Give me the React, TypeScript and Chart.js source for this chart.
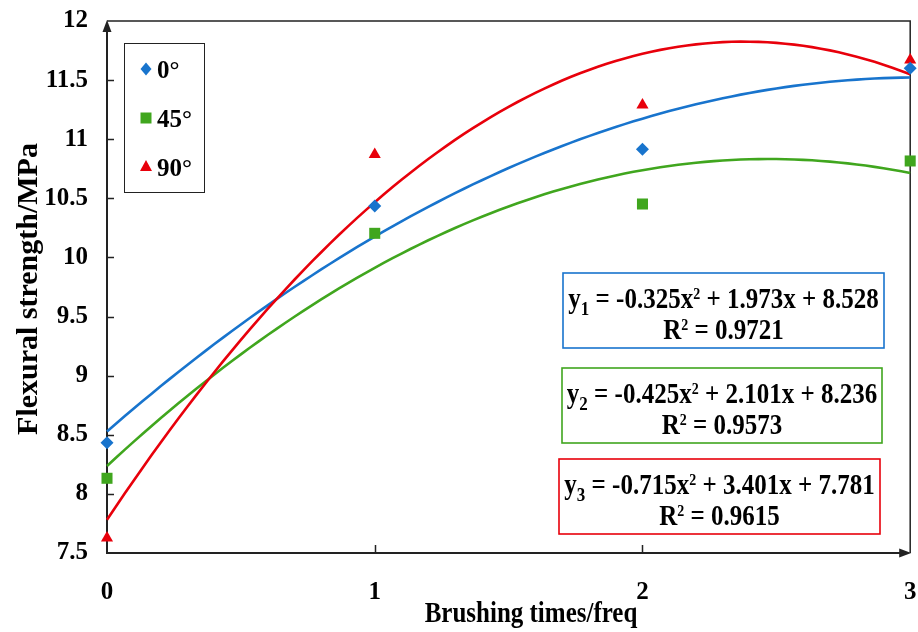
import React, { useEffect, useRef } from "react";
import { Chart, registerables } from "chart.js";

Chart.register(...registerables);

// Measured flexural strength (MPa) per brushing count
const brushTimes = [0, 1, 2, 3];
const strength0 = [8.433, 10.435, 10.915, 11.6];
const strength45 = [8.132, 10.204, 10.452, 10.816];
const strength90 = [7.627, 10.87, 11.29, 11.67];

const seriesNames = ["0°", "45°", "90°"];
const seriesColors = ["#1874CD", "#40A61E", "#E8000B"];

// Quadratic trendline coefficients [a, b, c] for y = a·x² + b·x + c
const fit0 = [-0.325, 1.973, 8.528];
const fit45 = [-0.425, 2.101, 8.236];
const fit90 = [-0.715, 3.401, 7.781];
const rSquared = [0.9721, 0.9573, 0.9615];

const xTicks = [0, 1, 2, 3];
const yTicks = [7.5, 8, 8.5, 9, 9.5, 10, 10.5, 11, 11.5, 12];

const xTitle = "Brushing times/freq";
const yTitle = "Flexural strength/MPa";

const SERIF = '"Liberation Serif", "Times New Roman", serif';

// Trendline traced from its displayed equation
function trend(coef: number[]) {
  const pts: { x: number; y: number }[] = [];
  const n = 90;
  for (let i = 0; i <= n; i++) {
    const x = (3 * i) / n;
    pts.push({ x, y: coef[0] * x * x + coef[1] * x + coef[2] });
  }
  return pts;
}

function pairs(ys: number[]) {
  return brushTimes.map((x, i) => ({ x, y: ys[i] }));
}

type Part = { t: string; k: "n" | "sub" | "sup" };

function drawRich(ctx: CanvasRenderingContext2D, parts: Part[], cx: number, baseline: number, sy: number) {
  const fontFor = (k: string) =>
    k === "n" ? `bold 25px ${SERIF}` : k === "sub" ? `bold 17px ${SERIF}` : `bold 14px ${SERIF}`;
  let total = 0;
  for (const p of parts) {
    ctx.font = fontFor(p.k);
    total += ctx.measureText(p.t).width;
  }
  let x = cx - total / 2;
  ctx.textAlign = "left";
  ctx.textBaseline = "alphabetic";
  for (const p of parts) {
    ctx.font = fontFor(p.k);
    const dy = p.k === "sub" ? 6 : p.k === "sup" ? -8 : 0;
    ctx.save();
    ctx.translate(x, baseline + dy * sy);
    ctx.scale(1, sy);
    ctx.fillText(p.t, 0, 0);
    ctx.restore();
    x += ctx.measureText(p.t).width;
  }
}

function signed(v: number) {
  return `${v < 0 ? "-" : "+"} ${Math.abs(v).toFixed(3)}`;
}

function drawMarker(ctx: CanvasRenderingContext2D, kind: number, x: number, y: number, color: string) {
  ctx.fillStyle = color;
  ctx.beginPath();
  if (kind === 0) {
    ctx.moveTo(x, y - 6.5);
    ctx.lineTo(x + 5.5, y);
    ctx.lineTo(x, y + 6.5);
    ctx.lineTo(x - 5.5, y);
  } else if (kind === 1) {
    ctx.rect(x - 5.5, y - 5.5, 11, 11);
  } else {
    ctx.moveTo(x, y - 7);
    ctx.lineTo(x + 6, y + 4);
    ctx.lineTo(x - 6, y + 4);
  }
  ctx.closePath();
  ctx.fill();
}

const axesPlugin = {
  id: "axesFrame",
  beforeDatasetsDraw(chart: any) {
    const { ctx, chartArea: a, scales } = chart;
    ctx.save();
    ctx.strokeStyle = "#222";
    ctx.fillStyle = "#222";
    // frame top and right
    ctx.lineWidth = 1.5;
    ctx.beginPath();
    ctx.moveTo(a.left, a.top);
    ctx.lineTo(a.right, a.top);
    ctx.lineTo(a.right, a.bottom);
    ctx.stroke();
    // axes
    ctx.lineWidth = 2;
    ctx.beginPath();
    ctx.moveTo(a.left, a.top + 8);
    ctx.lineTo(a.left, a.bottom);
    ctx.lineTo(a.right - 8, a.bottom);
    ctx.stroke();
    // arrow heads
    ctx.beginPath();
    ctx.moveTo(a.left, a.top - 1);
    ctx.lineTo(a.left + 4.5, a.top + 11);
    ctx.lineTo(a.left - 4.5, a.top + 11);
    ctx.closePath();
    ctx.fill();
    ctx.beginPath();
    ctx.moveTo(a.right + 1, a.bottom);
    ctx.lineTo(a.right - 11, a.bottom - 4.5);
    ctx.lineTo(a.right - 11, a.bottom + 4.5);
    ctx.closePath();
    ctx.fill();
    // inward tick marks
    ctx.lineWidth = 1.5;
    ctx.beginPath();
    for (const v of yTicks) {
      if (v === yTicks[0] || v === yTicks[yTicks.length - 1]) continue;
      const py = Math.round(scales.y.getPixelForValue(v)) + 0.5;
      ctx.moveTo(a.left, py);
      ctx.lineTo(a.left + 7, py);
    }
    for (const v of xTicks) {
      if (v === xTicks[0] || v === xTicks[xTicks.length - 1]) continue;
      const px = Math.round(scales.x.getPixelForValue(v)) + 0.5;
      ctx.moveTo(px, a.bottom);
      ctx.lineTo(px, a.bottom - 8);
    }
    ctx.stroke();
    ctx.restore();
  },
  afterDraw(chart: any) {
    const { ctx, chartArea: a } = chart;
    ctx.save();
    ctx.fillStyle = "#000";

    // axis titles
    ctx.font = `bold 25px ${SERIF}`;
    ctx.textAlign = "center";
    ctx.textBaseline = "alphabetic";
    ctx.save();
    ctx.translate(531, 622);
    ctx.scale(1, 1.15);
    ctx.fillText(xTitle, 0, 0);
    ctx.restore();

    ctx.font = `bold 30px ${SERIF}`;
    ctx.save();
    ctx.translate(37, 289);
    ctx.rotate(-Math.PI / 2);
    ctx.fillText(yTitle, 0, 0);
    ctx.restore();

    // legend box
    const lx = a.left + 17;
    const ly = a.top + 22;
    ctx.fillStyle = "#fff";
    ctx.fillRect(lx, ly, 80, 149);
    ctx.strokeStyle = "#222";
    ctx.lineWidth = 1;
    ctx.strokeRect(lx + 0.5, ly + 0.5, 80, 149);
    ctx.font = `bold 25px ${SERIF}`;
    ctx.textAlign = "left";
    ctx.textBaseline = "alphabetic";
    seriesNames.forEach((name, i) => {
      const my = ly + 26 + i * 49;
      drawMarker(ctx, i, lx + 22, my, seriesColors[i]);
      ctx.fillStyle = "#000";
      ctx.fillText(name, lx + 33, my + 9);
    });

    // equation boxes
    const fits = [fit0, fit45, fit90];
    const boxes = [
      [563, 273, 321, 75],
      [562, 368, 320, 75],
      [559, 459, 321, 75],
    ];
    fits.forEach((c, i) => {
      const [bx, by, bw, bh] = boxes[i];
      ctx.fillStyle = "#fff";
      ctx.fillRect(bx, by, bw, bh);
      ctx.strokeStyle = seriesColors[i];
      ctx.lineWidth = 1.6;
      ctx.strokeRect(bx, by, bw, bh);
      ctx.fillStyle = "#000";
      const cx = bx + bw / 2;
      drawRich(
        ctx,
        [
          { t: "y", k: "n" },
          { t: String(i + 1), k: "sub" },
          { t: ` = ${c[0].toFixed(3)}x`, k: "n" },
          { t: "2", k: "sup" },
          { t: ` ${signed(c[1])}x ${signed(c[2])}`, k: "n" },
        ],
        cx,
        by + 35,
        1.15
      );
      drawRich(
        ctx,
        [
          { t: "R", k: "n" },
          { t: "2", k: "sup" },
          { t: ` = ${rSquared[i].toFixed(4)}`, k: "n" },
        ],
        cx,
        by + 66,
        1.15
      );
    });
    ctx.restore();
  },
};

export default function App() {
  const ref = useRef<HTMLCanvasElement>(null);

  useEffect(() => {
    const tickFont = { family: SERIF, size: 25, weight: "bold" as const };
    const chart = new Chart(ref.current!, {
      type: "scatter",
      data: {
        datasets: [
          {
            label: seriesNames[0],
            data: pairs(strength0),
            pointStyle: "rectRot",
            pointRadius: 6.5,
            backgroundColor: seriesColors[0],
            borderColor: seriesColors[0],
            borderWidth: 0,
            clip: false,
          },
          {
            label: seriesNames[1],
            data: pairs(strength45),
            pointStyle: "rect",
            pointRadius: 7.8,
            backgroundColor: seriesColors[1],
            borderColor: seriesColors[1],
            borderWidth: 0,
            clip: false,
          },
          {
            label: seriesNames[2],
            data: pairs(strength90),
            pointStyle: "triangle",
            pointRadius: 7,
            backgroundColor: seriesColors[2],
            borderColor: seriesColors[2],
            borderWidth: 0,
            clip: false,
          },
          ...[fit90, fit0, fit45].map((c) => {
            const idx = c === fit0 ? 0 : c === fit45 ? 1 : 2;
            return {
              label: `fit ${seriesNames[idx]}`,
              data: trend(c),
              showLine: true,
              pointRadius: 0,
              borderColor: seriesColors[idx],
              borderWidth: 2.6,
              tension: 0,
              clip: false as const,
            };
          }),
        ],
      },
      options: {
        animation: false,
        responsive: true,
        maintainAspectRatio: false,
        layout: { padding: { left: 0, right: 5, top: 21, bottom: 0 } },
        plugins: { legend: { display: false }, tooltip: { enabled: false } },
        scales: {
          x: {
            type: "linear",
            min: 0,
            max: 3,
            grid: { display: false, drawTicks: false },
            border: { display: false },
            afterBuildTicks: (s: any) => {
              s.ticks = xTicks.map((v) => ({ value: v }));
            },
            ticks: {
              color: "#000",
              font: tickFont,
              padding: 25,
              maxRotation: 0,
              callback: (v: any) => String(v),
            },
            afterFit: (s: any) => {
              s.height = 79;
              s.paddingLeft = 0;
              s.paddingRight = 0;
            },
          },
          y: {
            type: "linear",
            min: 7.5,
            max: 12,
            grid: { display: false, drawTicks: false },
            border: { display: false },
            afterBuildTicks: (s: any) => {
              s.ticks = yTicks.map((v) => ({ value: v }));
            },
            ticks: {
              color: "#000",
              font: tickFont,
              padding: 19,
              callback: (v: any) => String(v),
            },
            afterFit: (s: any) => {
              s.width = 107;
              s.paddingTop = 0;
              s.paddingBottom = 0;
            },
          },
        },
      },
      plugins: [axesPlugin],
    });
    return () => chart.destroy();
  }, []);

  return (
    <div style={{ position: "absolute", left: 0, top: 0, width: 918, height: 632, background: "#fff" }}>
      <canvas ref={ref} />
    </div>
  );
}
